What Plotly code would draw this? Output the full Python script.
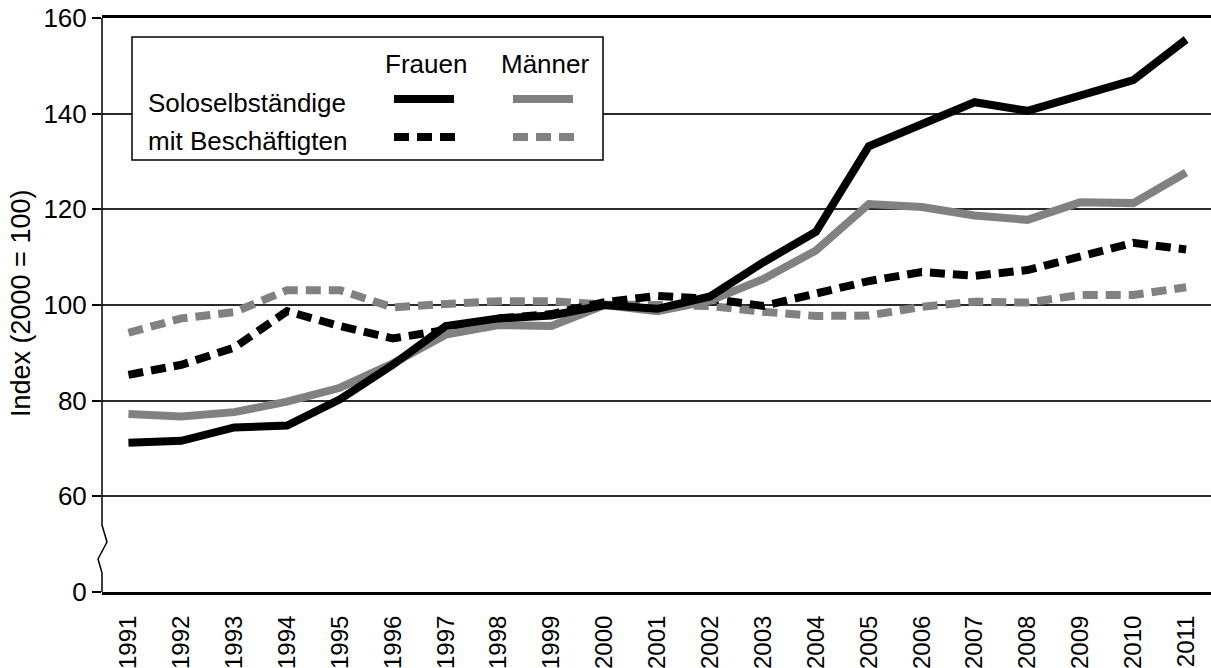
import plotly.graph_objects as go

years = list(range(1991, 2012))
frauen_solo = [71.2, 71.6, 74.4, 74.8, 80.3, 87.5, 95.6, 97.2, 97.8, 100.0, 99.2, 101.8,
               108.9, 115.3, 133.2, 137.8, 142.4, 140.6, 143.8, 147.0, 155.5]
maenner_solo = [77.2, 76.7, 77.6, 79.8, 82.7, 87.8, 93.8, 95.8, 95.6, 100.0, 98.7, 100.9,
                105.4, 111.4, 121.1, 120.5, 118.7, 117.8, 121.5, 121.3, 127.7]
frauen_mit = [85.4, 87.5, 91.1, 98.7, 95.6, 93.0, 94.8, 97.2, 98.1, 100.6, 101.9, 101.3,
              99.8, 102.2, 105.0, 106.9, 106.1, 107.3, 110.1, 113.0, 111.6]
maenner_mit = [94.2, 97.2, 98.5, 103.1, 103.1, 99.5, 100.2, 100.8, 100.8, 100.1, 100.0, 99.8,
               98.6, 97.7, 97.8, 99.6, 100.7, 100.5, 102.1, 102.1, 103.7]

y_tickvals = [40, 60, 80, 100, 120, 140, 160]
y_ticktext = ["0", "60", "80", "100", "120", "140", "160"]

BLACK = "#000000"
GRAY = "#818184"
FONT = "Liberation Sans, Arial, sans-serif"
DASH = "15px,8px"

W, H = 1211, 668
L, R, T, B = 102, 0, 18, 76
PW, PH = W - L - R, H - T - B


def px(x):
    return (x - L) / PW


def py(y):
    return (H - B - y) / PH


fig = go.Figure()
series = [
    (maenner_mit, GRAY, DASH),
    (frauen_mit, BLACK, DASH),
    (maenner_solo, GRAY, "solid"),
    (frauen_solo, BLACK, "solid"),
]
for vals, col, dash in series:
    fig.add_trace(go.Scatter(x=years, y=vals, mode="lines",
                             line=dict(color=col, width=8, dash=dash),
                             showlegend=False, hoverinfo="skip"))

shapes = []
# y axis line with break zigzag
shapes.append(dict(type="path", xref="paper", yref="y",
                   path=f"M 0 160 L 0 54.0 L {5/PW} 50.45 L {-4/PW} 46.9 L 0 44.0 L 0 40",
                   line=dict(color=BLACK, width=1.5)))
# legend box
shapes.append(dict(type="rect", xref="paper", yref="paper",
                   x0=px(132), x1=px(603), y0=py(160), y1=py(37),
                   fillcolor="white", line=dict(color=BLACK, width=1.5), layer="above"))
# legend samples
for (x0, x1, yy, col, dash) in [
    (394, 454, 99, BLACK, "solid"),
    (513, 573, 99, GRAY, "solid"),
    (394, 455, 137, BLACK, DASH),
    (513, 574, 137, GRAY, DASH),
]:
    shapes.append(dict(type="line", xref="paper", yref="paper",
                       x0=px(x0), x1=px(x1), y0=py(yy), y1=py(yy),
                       line=dict(color=col, width=8, dash=dash), layer="above"))

annotations = [
    dict(text="Frauen", x=px(426), y=py(64), xanchor="center", yanchor="middle", size=26),
    dict(text="Männer", x=px(545), y=py(64), xanchor="center", yanchor="middle", size=26),
    dict(text="Soloselbständige", x=px(146), y=py(103), xanchor="left", yanchor="middle",
         size=26),
    dict(text="mit Beschäftigten", x=px(146), y=py(141), xanchor="left", yanchor="middle",
         size=26),
    dict(text="Index (2000 = 100)", x=px(21), y=py(304), xanchor="center", yanchor="middle",
         textangle=-90, size=27),
]
for a in annotations:
    s = a.pop("size")
    a.update(xref="paper", yref="paper", showarrow=False,
             font=dict(family=FONT, size=s, color=BLACK))

fig.update_layout(
    width=W, height=H,
    margin=dict(l=L, r=R, t=T, b=B, pad=0, autoexpand=False),
    paper_bgcolor="white", plot_bgcolor="white",
    font=dict(family=FONT, size=26, color=BLACK),
    shapes=shapes, annotations=annotations,
    xaxis=dict(range=[1990.5, 2011.47], tickmode="array", tickvals=years,
               ticktext=[str(y) for y in years], tickangle=-90, automargin=False,
               showgrid=False, zeroline=False, showline=True, linecolor=BLACK,
               linewidth=3, mirror=True, ticks="", ticklabelstandoff=11,
               tickfont=dict(family=FONT, size=24, color=BLACK)),
    yaxis=dict(range=[40, 160], tickmode="array", tickvals=y_tickvals,
               ticktext=y_ticktext, showgrid=True, gridcolor="#2a2a2a", gridwidth=1.5,
               zeroline=False, showline=False, ticks="outside", ticklen=9,
               tickwidth=1.5, tickcolor=BLACK, automargin=False,
               tickfont=dict(family=FONT, size=26, color=BLACK)),
)

fig.write_html("out.html",
               config={"displayModeBar": False},
               post_script="document.body.style.margin='0px';"
                           "document.body.style.overflow='hidden';")
